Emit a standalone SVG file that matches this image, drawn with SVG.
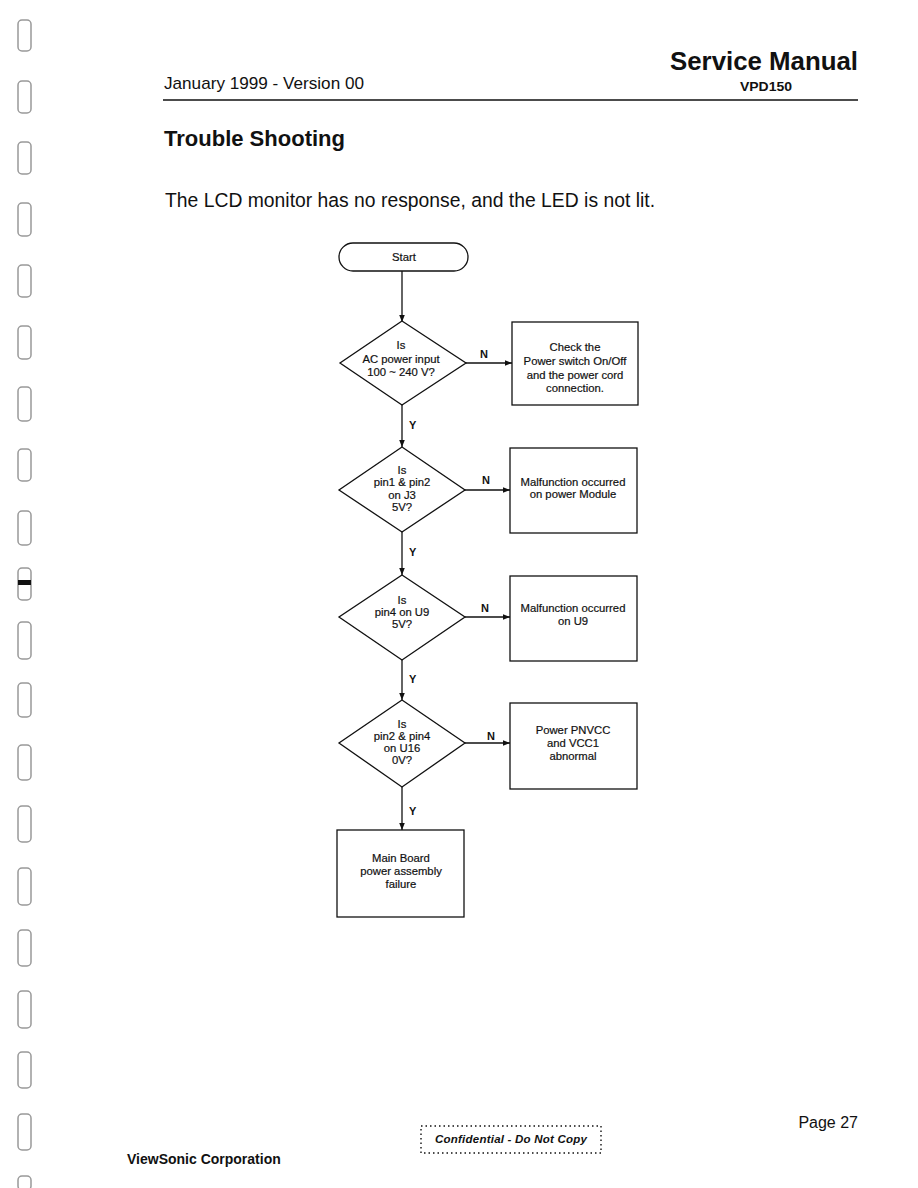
<svg xmlns="http://www.w3.org/2000/svg" width="918" height="1188" viewBox="0 0 918 1188">
<style>
.t{font-family:"Liberation Sans",Arial,sans-serif;fill:#111}
.n{font-size:11.3px;text-anchor:middle;stroke:#111;stroke-width:0.2}
.lbl{font-size:11px;font-weight:bold}
.shape{fill:#fff;stroke:#111;stroke-width:1.3}
.conn{stroke:#111;stroke-width:1.3;fill:none}
.hole{fill:none;stroke:#999;stroke-width:1.5}
</style>
<defs>
<marker id="ah" viewBox="0 0 10 10" refX="10" refY="5" markerWidth="7" markerHeight="7" orient="auto" markerUnits="userSpaceOnUse">
<path d="M0,1 L10,5 L0,9 z" fill="#111"/>
</marker>
</defs>
<rect width="918" height="1188" fill="#fff"/>
<g id="binding">
<rect class="hole" x="18" y="20" width="13" height="31" rx="4"/>
<rect class="hole" x="18" y="81" width="13" height="32" rx="4"/>
<rect class="hole" x="18" y="142" width="13" height="32" rx="4"/>
<rect class="hole" x="18" y="203" width="13" height="33" rx="4"/>
<rect class="hole" x="18" y="265" width="13" height="32" rx="4"/>
<rect class="hole" x="18" y="326" width="13" height="33" rx="4"/>
<rect class="hole" x="18" y="387" width="13" height="34" rx="4"/>
<rect class="hole" x="18" y="449" width="13" height="32" rx="4"/>
<rect class="hole" x="18" y="511" width="13" height="34" rx="4"/>
<rect class="hole" x="18" y="568" width="13" height="32" rx="4"/>
<rect x="18" y="580" width="13" height="5" fill="#111"/>
<rect class="hole" x="18" y="622" width="13" height="37" rx="4"/>
<rect class="hole" x="18" y="683" width="13" height="34" rx="4"/>
<rect class="hole" x="18" y="745" width="13" height="35" rx="4"/>
<rect class="hole" x="18" y="806" width="13" height="36" rx="4"/>
<rect class="hole" x="18" y="868" width="13" height="37" rx="4"/>
<rect class="hole" x="18" y="930" width="13" height="36" rx="4"/>
<rect class="hole" x="18" y="991" width="13" height="37" rx="4"/>
<rect class="hole" x="18" y="1052" width="13" height="36" rx="4"/>
<rect class="hole" x="18" y="1114" width="13" height="36" rx="4"/>
<rect class="hole" x="18" y="1176" width="13" height="14" rx="4"/>
</g>
<g id="header">
<text class="t" x="858" y="70" font-size="25" font-weight="bold" text-anchor="end" textLength="188" lengthAdjust="spacingAndGlyphs">Service Manual</text>
<text class="t" x="164" y="89" font-size="17" textLength="200" lengthAdjust="spacingAndGlyphs">January 1999 - Version 00</text>
<text class="t" x="792" y="91" font-size="13" font-weight="bold" text-anchor="end" textLength="52" lengthAdjust="spacingAndGlyphs">VPD150</text>
<line x1="163" y1="100" x2="858" y2="100" stroke="#111" stroke-width="1.3"/>
<text class="t" x="164" y="146" font-size="22" font-weight="bold" textLength="181" lengthAdjust="spacingAndGlyphs">Trouble Shooting</text>
<text class="t" x="165" y="207" font-size="19.3" textLength="490" lengthAdjust="spacingAndGlyphs">The LCD monitor has no response, and the LED is not lit.</text>
</g>
<g id="connectors">
<line class="conn" x1="402" y1="271" x2="402" y2="322" marker-end="url(#ah)"/>
<line class="conn" x1="466" y1="363" x2="512" y2="363" marker-end="url(#ah)"/>
<line class="conn" x1="402" y1="405" x2="402" y2="447" marker-end="url(#ah)"/>
<line class="conn" x1="465" y1="490" x2="510" y2="490" marker-end="url(#ah)"/>
<line class="conn" x1="402" y1="532" x2="402" y2="575" marker-end="url(#ah)"/>
<line class="conn" x1="465" y1="617" x2="510" y2="617" marker-end="url(#ah)"/>
<line class="conn" x1="402" y1="660" x2="402" y2="700" marker-end="url(#ah)"/>
<line class="conn" x1="465" y1="743" x2="510" y2="743" marker-end="url(#ah)"/>
<line class="conn" x1="402" y1="787" x2="402" y2="830" marker-end="url(#ah)"/>
<text class="t lbl" x="480" y="358">N</text>
<text class="t lbl" x="409" y="429">Y</text>
<text class="t lbl" x="482" y="484">N</text>
<text class="t lbl" x="409" y="556">Y</text>
<text class="t lbl" x="481" y="612">N</text>
<text class="t lbl" x="409" y="683">Y</text>
<text class="t lbl" x="487" y="740">N</text>
<text class="t lbl" x="409" y="815">Y</text>
</g>
<g id="start">
<rect class="shape" x="339" y="243" width="129" height="28" rx="14"/>
<text class="t n" x="404" y="261">Start</text>
</g>
<g id="d1">
<polygon class="shape" points="402,321 466,363 402,405 340,363"/>
<text class="t n" x="401" y="349">Is</text>
<text class="t n" x="401" y="363">AC power input</text>
<text class="t n" x="401" y="376">100 ~ 240 V?</text>
</g>
<g id="b1">
<rect class="shape" x="512" y="322" width="126" height="83"/>
<text class="t n" x="575" y="351">Check the</text>
<text class="t n" x="575" y="365">Power switch On/Off</text>
<text class="t n" x="575" y="379">and the power cord</text>
<text class="t n" x="575" y="392">connection.</text>
</g>
<g id="d2">
<polygon class="shape" points="402,447 465,490 402,532 339,490"/>
<text class="t n" x="402" y="474">Is</text>
<text class="t n" x="402" y="486">pin1 &amp; pin2</text>
<text class="t n" x="402" y="499">on J3</text>
<text class="t n" x="402" y="511">5V?</text>
</g>
<g id="b2">
<rect class="shape" x="510" y="448" width="127" height="85"/>
<text class="t n" x="573" y="486">Malfunction occurred</text>
<text class="t n" x="573" y="498">on power Module</text>
</g>
<g id="d3">
<polygon class="shape" points="402,575 465,617 402,660 339,617"/>
<text class="t n" x="402" y="604">Is</text>
<text class="t n" x="402" y="616">pin4 on U9</text>
<text class="t n" x="402" y="628">5V?</text>
</g>
<g id="b3">
<rect class="shape" x="510" y="576" width="127" height="85"/>
<text class="t n" x="573" y="612">Malfunction occurred</text>
<text class="t n" x="573" y="625">on U9</text>
</g>
<g id="d4">
<polygon class="shape" points="402,700 465,743 402,787 339,743"/>
<text class="t n" x="402" y="728">Is</text>
<text class="t n" x="402" y="740">pin2 &amp; pin4</text>
<text class="t n" x="402" y="752">on U16</text>
<text class="t n" x="402" y="764">0V?</text>
</g>
<g id="b4">
<rect class="shape" x="510" y="703" width="127" height="86"/>
<text class="t n" x="573" y="734">Power PNVCC</text>
<text class="t n" x="573" y="747">and VCC1</text>
<text class="t n" x="573" y="760">abnormal</text>
</g>
<g id="b5">
<rect class="shape" x="337" y="830" width="127" height="87"/>
<text class="t n" x="401" y="862">Main Board</text>
<text class="t n" x="401" y="875">power assembly</text>
<text class="t n" x="401" y="888">failure</text>
</g>
<g id="footer">
<text class="t" x="858" y="1128" font-size="16" text-anchor="end">Page 27</text>
<rect x="421" y="1126" width="180" height="27" fill="none" stroke="#111" stroke-width="1.4" stroke-dasharray="1.5,3"/>
<text class="t" x="435" y="1143" font-size="11.5" font-weight="bold" font-style="italic" textLength="152" lengthAdjust="spacing">Confidential - Do Not Copy</text>
<text class="t" x="127" y="1164" font-size="14" font-weight="bold">ViewSonic Corporation</text>
</g>
</svg>
